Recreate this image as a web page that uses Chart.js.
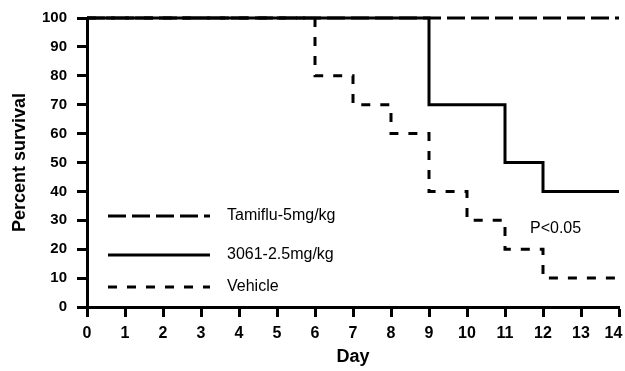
<!DOCTYPE html>
<html>
<head>
<meta charset="utf-8">
<script src="https://cdn.jsdelivr.net/npm/chart.js@4/dist/chart.umd.min.js"></script>
<style>
  html, body { margin: 0; padding: 0; background: #fff; }
  #wrap { width: 625px; height: 371px; }
</style>
</head>
<body>
<div id="wrap"><canvas id="c" width="625" height="371"></canvas></div>
<script>
// ---- data ----
const seriesNames = ['Tamiflu-5mg/kg', '3061-2.5mg/kg', 'Vehicle'];
const tamifluDays = [0, 14];
const tamifluSurvival = [100, 100];
const compDays = [0, 9, 11, 12, 14];
const compSurvival = [100, 70, 50, 40, 40];
const vehicleDays = [0, 6, 7, 8, 9, 10, 11, 12, 14];
const vehicleSurvival = [100, 80, 70, 60, 40, 30, 20, 10, 10];
const xTicks = [0,1,2,3,4,5,6,7,8,9,10,11,12,13,14];
const yTicks = [0,10,20,30,40,50,60,70,80,90,100];
const annotationText = 'P<0.05';

const toPts = (xs, ys) => xs.map((x, i) => ({x: x, y: ys[i]}));
const dashes = [[18, 6], [], [9, 10]];

const legendPlugin = {
  id: 'insideLegend',
  afterDatasetsDraw(chart) {
    const ctx = chart.ctx;
    const ys = [216, 255, 287];
    ctx.save();
    seriesNames.forEach((name, i) => {
      ctx.beginPath();
      ctx.lineWidth = 3;
      ctx.strokeStyle = '#000';
      ctx.setLineDash(dashes[i]);
      ctx.moveTo(108, ys[i]);
      ctx.lineTo(210, ys[i]);
      ctx.stroke();
      ctx.setLineDash([]);
      ctx.fillStyle = '#000';
      ctx.font = '16px "Liberation Sans", Arial, sans-serif';
      ctx.textBaseline = 'middle';
      ctx.textAlign = 'left';
      ctx.fillText(name, 227, ys[i]);
    });
    ctx.font = '16px "Liberation Sans", Arial, sans-serif';
    ctx.textBaseline = 'middle';
    ctx.fillText(annotationText, 530, 229);
    ctx.restore();
  }
};

new Chart(document.getElementById('c'), {
  type: 'line',
  data: {
    datasets: [
      { label: seriesNames[0], data: toPts(tamifluDays, tamifluSurvival), borderColor: '#000', borderWidth: 3, borderDash: dashes[0], stepped: true, pointRadius: 0, fill: false, clip: false, borderCapStyle: 'butt' },
      { label: seriesNames[1], data: toPts(compDays, compSurvival), borderColor: '#000', borderWidth: 3, borderDash: dashes[1], stepped: true, pointRadius: 0, fill: false, clip: false, borderJoinStyle: 'miter' },
      { label: seriesNames[2], data: toPts(vehicleDays, vehicleSurvival), borderColor: '#000', borderWidth: 3, borderDash: dashes[2], stepped: true, pointRadius: 0, fill: false, clip: false }
    ]
  },
  options: {
    responsive: false,
    animation: false,
    devicePixelRatio: 1,
    layout: { padding: { top: 18, right: 6, left: 0, bottom: 0 } },
    plugins: { legend: { display: false }, tooltip: { enabled: false } },
    scales: {
      x: {
        type: 'linear',
        min: 0, max: 14,
        afterFit: s => { s.height = 64; s.paddingLeft = 0; s.paddingRight = 0; },
        afterBuildTicks: s => { s.ticks = xTicks.map(v => ({value: v})); },
        grid: { drawOnChartArea: false, drawTicks: true, tickLength: 10, tickWidth: 3, tickColor: '#000' },
        border: { display: true, width: 3, color: '#000' },
        ticks: {
          color: '#000', padding: 7, maxRotation: 0, autoSkip: false,
          callback: (v) => v === xTicks[xTicks.length - 1] ? String(v) + '\u2002\u2009' : String(v),
          font: { family: '"Liberation Sans", Arial, sans-serif', size: 16, weight: 'bold' }
        },
        title: { display: true, text: 'Day', color: '#000', padding: { top: 0, bottom: 3 }, font: { family: '"Liberation Sans", Arial, sans-serif', size: 18, weight: 'bold' } }
      },
      y: {
        min: 0, max: 100,
        afterFit: s => { s.width = 87; s.paddingTop = 0; s.paddingBottom = 0; },
        afterBuildTicks: s => { s.ticks = yTicks.map(v => ({value: v})); },
        grid: { drawOnChartArea: false, drawTicks: true, tickLength: 10, tickWidth: 3, tickColor: '#000' },
        border: { display: true, width: 3, color: '#000' },
        ticks: { color: '#000', padding: 10, autoSkip: false, font: { family: '"Liberation Sans", Arial, sans-serif', size: 15, weight: 'bold' } },
        title: { display: true, text: 'Percent survival', color: '#000', padding: { top: 9, bottom: 0 }, font: { family: '"Liberation Sans", Arial, sans-serif', size: 18, weight: 'bold' } }
      }
    }
  },
  plugins: [legendPlugin]
});
</script>
</body>
</html>
